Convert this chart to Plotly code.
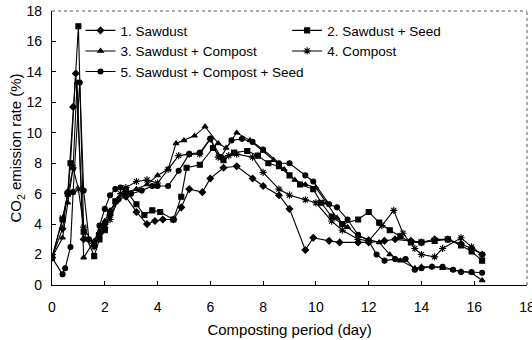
import plotly.graph_objects as go

# ---- data (day, CO2 emission rate %) ----
names = ["1. Sawdust", "2. Sawdust + Seed", "3. Sawdust + Compost", "4. Compost",
         "5. Sawdust + Compost + Seed"]

x1 = [0, 0.4, 0.6, 0.8, 0.9, 1.2, 1.6, 1.8, 2.0, 2.2, 2.5, 2.8, 3.2, 3.6, 3.9, 4.2, 4.6, 4.9, 5.2, 5.7,
      6.0, 6.5, 7.0, 7.6, 8.0, 8.6, 9.0, 9.6, 9.9, 10.5, 10.9, 11.6, 12.0, 12.6, 13.0, 13.6, 14.0, 14.5,
      15.0, 15.5, 15.9, 16.3]
y1 = [1.8, 3.7, 6.1, 11.7, 13.9, 3.0, 2.6, 3.4, 4.0, 4.6, 5.6, 5.8, 4.8, 4.0, 4.2, 4.3, 4.3, 5.1, 6.3, 6.1,
      7.0, 7.7, 7.8, 7.0, 6.5, 5.9, 5.0, 2.3, 3.1, 2.9, 2.8, 2.8, 2.8, 2.9, 3.0, 2.9, 2.8, 3.0,
      3.0, 2.7, 2.4, 2.0]

x2 = [0, 0.4, 0.6, 0.7, 1.0, 1.2, 1.6, 1.8, 2.0, 2.2, 2.4, 2.8, 3.2, 3.5, 3.8, 4.1, 4.6, 4.9, 5.1, 5.6,
      6.1, 6.5, 6.9, 7.4, 7.8, 8.2, 8.6, 9.0, 9.4, 9.9, 10.2, 10.6, 11.0, 11.6, 12.0, 12.4, 12.8, 13.2,
      13.6, 14.0, 14.5, 15.0, 15.5, 15.9, 16.3]
y2 = [1.8, 4.3, 6.0, 8.0, 17.0, 3.5, 1.9, 3.0, 3.6, 4.8, 5.5, 6.2, 5.3, 4.6, 4.9, 4.8, 4.3, 5.8, 7.7, 7.9,
      9.0, 8.2, 8.7, 8.8, 8.5, 8.0, 7.8, 7.2, 6.6, 6.3, 5.4, 4.5, 4.0, 4.3, 4.8, 4.1, 3.6, 3.2,
      2.8, 2.8, 2.9, 3.0, 2.6, 2.2, 1.6]

x3 = [0, 0.4, 0.6, 0.8, 0.95, 1.2, 1.6, 1.8, 2.0, 2.2, 2.5, 2.8, 3.2, 3.6, 4.0, 4.4, 4.7, 5.0, 5.4, 5.8,
      6.3, 6.6, 7.0, 7.5, 8.0, 8.4, 8.8, 9.2, 9.6, 10.0, 10.4, 10.8, 11.2, 11.6, 12.0, 12.4, 12.8, 13.2,
      13.75, 14.0, 14.4, 14.8, 15.2, 15.5, 15.9, 16.3]
y3 = [1.8, 3.1, 5.4, 7.7, 13.3, 1.8, 2.9, 3.5, 4.2, 4.9, 5.6, 6.1, 6.3, 6.6, 7.2, 7.6, 9.3, 9.5, 9.8, 10.4,
      9.3, 9.0, 10.0, 9.5, 8.8, 8.2, 7.6, 6.9, 6.6, 6.4, 5.4, 4.4, 3.8, 3.2, 3.0, 2.8, 2.0, 1.6,
      1.1, 1.2, 1.2, 1.1, 1.0, 0.9, 0.8, 0.3]

x4 = [0, 0.4, 0.6, 0.8, 1.0, 1.2, 1.6, 1.8, 2.0, 2.2, 2.6, 2.8, 3.2, 3.6, 4.0, 4.4, 4.8, 5.2, 5.6, 6.0,
      6.3, 6.7, 7.0, 7.6, 8.0, 8.6, 9.0, 9.6, 10.0, 10.6, 11.0, 11.6, 12.0, 12.5, 12.95, 13.3, 13.75,
      14.0, 14.5, 14.8, 15.5, 15.9, 16.3]
y4 = [1.8, 4.4, 6.0, 7.7, 6.3, 3.8, 2.5, 3.3, 3.8, 4.3, 6.0, 6.4, 6.8, 6.9, 6.7, 7.6, 8.5, 8.6, 8.6, 9.6,
      8.4, 8.5, 8.6, 8.4, 7.4, 6.3, 5.9, 5.6, 5.4, 4.2, 3.6, 3.0, 2.9, 3.9, 4.9, 3.4, 2.4,
      2.0, 1.85, 2.4, 3.1, 2.5, 2.0]

x5 = [0, 0.4, 0.5, 0.7, 0.8, 1.05, 1.2, 1.4, 1.6, 1.8, 2.0, 2.2, 2.4, 2.6, 2.8, 3.0, 3.4, 3.8, 4.0, 4.4,
      4.8, 5.2, 5.6, 6.0, 6.4, 6.8, 7.2, 7.6, 8.0, 8.6, 9.0, 9.6, 9.9, 10.5, 10.8, 11.2, 11.6, 12.0,
      12.3, 12.6, 13.0, 13.4, 13.75, 14.0, 14.4, 14.8, 15.2, 15.5, 15.9, 16.3]
y5 = [1.8, 0.7, 1.1, 2.5, 6.1, 13.3, 6.2, 3.0, 2.8, 3.9, 5.0, 5.9, 6.3, 6.4, 6.1, 6.0, 6.2, 6.5, 6.5, 6.5,
      7.5, 8.6, 8.7, 9.6, 8.4, 9.5, 9.6, 9.4, 8.9, 8.0, 8.0, 7.2, 6.8, 5.3, 5.1, 4.3, 3.3, 2.9,
      2.0, 1.6, 1.7, 1.7, 1.0, 1.1, 1.2, 1.2, 1.0, 0.85, 0.85, 0.8]

xs = [x1, x2, x3, x4, x5]
ys = [y1, y2, y3, y4, y5]
symbols = ["diamond", "square", "triangle-up", "asterisk-open", "circle"]
sizes = [5, 5, 5, 6, 5]
legends = ["legend", "legend2", "legend", "legend2", "legend"]

FONT = "Arial, Liberation Sans, Helvetica, sans-serif"

fig = go.Figure()
for i in range(5):
    fig.add_trace(go.Scatter(
        x=xs[i], y=ys[i], name=names[i], mode="lines+markers",
        line=dict(color="black", width=1.1),
        marker=dict(symbol=symbols[i], size=sizes[i], color="black",
                    line=dict(color="black", width=1.1)),
        legend=legends[i],
    ))

leg_common = dict(font=dict(family=FONT, size=13.5, color="black"),
                  bgcolor="rgba(0,0,0,0)", borderwidth=0, itemwidth=30,
                  tracegroupgap=0, xanchor="left", yanchor="top")

fig.update_layout(
    width=532, height=340,
    margin=dict(l=52, r=5, t=11, b=55),
    paper_bgcolor="white", plot_bgcolor="white",
    font=dict(family=FONT, size=14, color="black"),
    showlegend=True,
    legend=dict(x=0.06, y=0.985, **leg_common),
    legend2=dict(x=0.495, y=0.985, **leg_common),
    xaxis=dict(range=[0, 18], dtick=2, tick0=0, showgrid=False, zeroline=False,
               showline=True, linecolor="black", linewidth=1.2, automargin=False,
               ticks="inside", ticklen=4, tickcolor="black", ticklabeloverflow="allow",
               tickfont=dict(size=14), ticklabelstandoff=9,
               title=dict(text="Composting period (day)", font=dict(size=15), standoff=10)),
    yaxis=dict(range=[0, 18], dtick=2, tick0=0, showgrid=False, zeroline=False,
               showline=True, linecolor="black", linewidth=1.2, automargin=False,
               ticks="inside", ticklen=4, tickcolor="black",
               tickfont=dict(size=14), ticklabelstandoff=6,
               title=dict(text="CO<sub>2</sub> emission rate (%)", font=dict(size=15), standoff=0)),
    shapes=[
        dict(type="line", xref="paper", yref="paper", x0=0, x1=1, y0=1, y1=1,
             line=dict(color="#555", width=1, dash="dot")),
        dict(type="line", xref="paper", yref="paper", x0=1, x1=1, y0=0, y1=1,
             line=dict(color="#555", width=1, dash="dot")),
    ],
)

fig.write_html("out.html", config={"displayModeBar": False},
               post_script="document.body.style.margin='0';document.body.style.overflow='hidden';")
